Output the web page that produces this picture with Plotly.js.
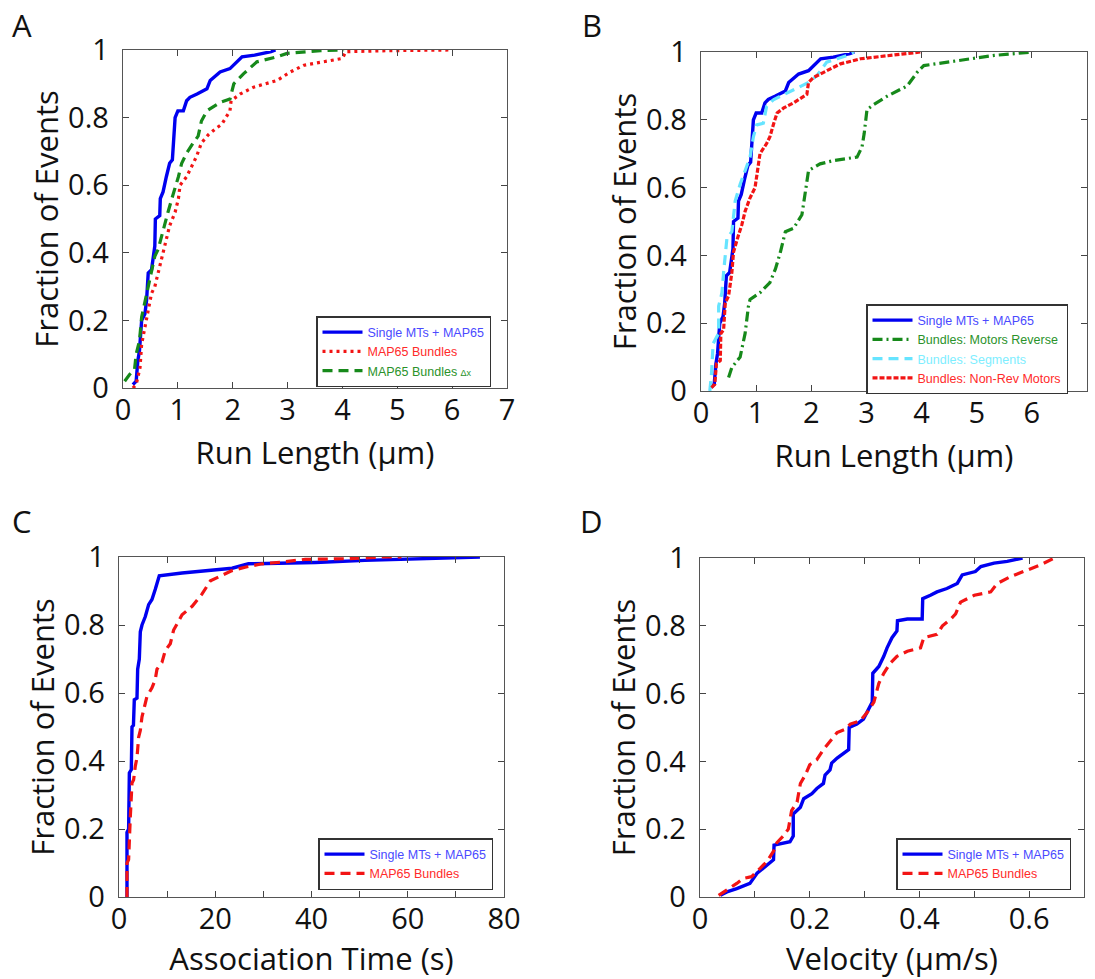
<!DOCTYPE html>
<html><head><meta charset="utf-8">
<script src="https://cdn.plot.ly/plotly-3.0.1.min.js"></script>
<style>body{margin:0;background:#fff}</style>
</head><body><div id="chart" style="width:1095px;height:979px"></div>
<script>
// ---- Panel A / B : run length CDFs (µm) ----
const runSingleX = [0.18,0.24,0.27,0.30,0.34,0.40,0.43,0.46,0.52,0.55,0.58,0.59,0.67,0.68,0.73,0.79,0.85,0.90,0.93,0.95,1.00,1.10,1.16,1.22,1.35,1.53,1.59,1.77,1.95,2.05,2.17,2.40,2.56,2.70,2.78];
const runSingleY = [0.01,0.02,0.08,0.11,0.20,0.22,0.26,0.34,0.35,0.39,0.42,0.50,0.51,0.56,0.58,0.625,0.665,0.675,0.77,0.80,0.82,0.82,0.85,0.86,0.87,0.885,0.91,0.935,0.945,0.96,0.98,0.985,0.99,0.995,1.0];
const runBundlesX = [0.18,0.24,0.31,0.34,0.40,0.46,0.52,0.58,0.64,0.70,0.76,0.85,0.95,1.01,1.04,1.16,1.25,1.34,1.43,1.56,1.71,1.80,1.95,1.97,2.14,2.38,2.81,3.05,3.30,3.66,4.00,4.06,4.82,5.95];
const runBundlesY = [0.0,0.01,0.06,0.13,0.18,0.23,0.28,0.30,0.34,0.39,0.42,0.48,0.52,0.56,0.60,0.625,0.655,0.685,0.725,0.75,0.77,0.78,0.82,0.85,0.87,0.89,0.91,0.935,0.955,0.965,0.975,0.995,0.998,1.0];
const runBundlesDxX = [0.03,0.12,0.21,0.24,0.30,0.34,0.40,0.46,0.52,0.58,0.64,0.70,0.76,0.82,0.89,0.95,1.01,1.07,1.16,1.28,1.37,1.43,1.53,1.77,1.95,2.02,2.20,2.44,2.81,2.99,3.60,4.03];
const runBundlesDxY = [0.02,0.04,0.055,0.10,0.14,0.21,0.255,0.30,0.34,0.39,0.41,0.45,0.48,0.52,0.56,0.59,0.625,0.665,0.695,0.725,0.745,0.79,0.82,0.845,0.855,0.90,0.93,0.965,0.98,0.99,0.998,1.0];
const motorsRevX = [0.50,0.56,0.71,0.80,0.86,0.89,1.07,1.25,1.35,1.44,1.53,1.68,1.83,1.89,1.95,2.16,2.41,2.83,2.92,2.96,3.01,3.13,3.38,3.74,3.92,4.04,4.47,4.95,5.32,5.68,6.01];
const motorsRevY = [0.04,0.07,0.10,0.17,0.25,0.27,0.29,0.32,0.36,0.41,0.47,0.48,0.52,0.58,0.65,0.67,0.68,0.69,0.72,0.76,0.83,0.845,0.87,0.90,0.94,0.96,0.97,0.98,0.99,0.995,1.0];
const segmentsX = [0.16,0.19,0.22,0.32,0.32,0.38,0.41,0.47,0.56,0.59,0.62,0.71,0.80,0.89,0.95,1.01,1.13,1.19,1.32,1.56,1.80,1.95,2.10,2.28,2.47,2.65,2.77];
const segmentsY = [0.0,0.05,0.14,0.17,0.25,0.29,0.35,0.45,0.47,0.52,0.56,0.61,0.65,0.69,0.75,0.785,0.79,0.84,0.86,0.88,0.90,0.91,0.93,0.97,0.98,0.99,1.0];
const nonRevX = [0.19,0.25,0.28,0.35,0.36,0.41,0.44,0.50,0.56,0.59,0.68,0.74,0.80,0.89,0.98,1.04,1.07,1.19,1.25,1.32,1.38,1.50,1.68,1.92,1.95,2.04,2.28,2.53,2.89,3.50,3.98];
const nonRevY = [0.01,0.02,0.08,0.09,0.17,0.18,0.26,0.28,0.35,0.41,0.46,0.49,0.53,0.57,0.60,0.66,0.70,0.73,0.75,0.79,0.82,0.835,0.85,0.875,0.91,0.925,0.945,0.965,0.98,0.99,1.0];
// ---- Panel C : association time (s) ----
const assocSingleX = [1.66,1.66,2.0,2.15,2.56,2.7,3.0,3.18,3.74,3.88,4.22,4.43,4.78,5.47,6.16,6.85,7.54,7.89,8.37,13.1,18.6,23.5,26.9,40.8,51.1,61.5,75.0];
const assocSingleY = [0.0,0.19,0.20,0.365,0.375,0.50,0.505,0.58,0.585,0.67,0.70,0.78,0.80,0.825,0.86,0.875,0.905,0.925,0.945,0.953,0.96,0.967,0.98,0.984,0.99,0.995,1.0];
const assocBundlesX = [1.66,1.66,2.0,2.15,2.35,2.7,3.04,3.39,3.74,4.08,4.43,4.78,5.47,5.81,6.85,7.54,7.89,8.93,9.62,10.66,11.35,12.4,13.1,15.2,17.2,19.0,21.4,23.5,26.2,29.7,33.8,38.7,47.7,54.6,58.7];
const assocBundlesY = [0.0,0.10,0.11,0.205,0.235,0.335,0.345,0.385,0.41,0.47,0.49,0.53,0.57,0.59,0.615,0.64,0.67,0.69,0.725,0.745,0.785,0.81,0.83,0.855,0.89,0.93,0.945,0.96,0.97,0.98,0.985,0.993,0.995,1.0,1.0];
// ---- Panel D : velocity (µm/s) ----
const velSingleX = [0.037,0.049,0.067,0.091,0.104,0.116,0.134,0.135,0.164,0.170,0.170,0.183,0.189,0.204,0.213,0.225,0.228,0.237,0.240,0.250,0.262,0.271,0.272,0.286,0.298,0.307,0.314,0.315,0.326,0.335,0.341,0.350,0.359,0.360,0.378,0.405,0.406,0.420,0.432,0.450,0.469,0.478,0.502,0.512,0.536,0.560,0.588];
const velSingleY = [0.005,0.015,0.025,0.04,0.07,0.085,0.11,0.153,0.163,0.18,0.245,0.265,0.29,0.305,0.32,0.335,0.36,0.375,0.395,0.41,0.425,0.435,0.50,0.51,0.525,0.555,0.575,0.66,0.68,0.71,0.735,0.765,0.785,0.815,0.82,0.82,0.88,0.89,0.90,0.91,0.925,0.95,0.96,0.975,0.985,0.99,1.0];
const velBundlesX = [0.034,0.049,0.067,0.079,0.094,0.110,0.122,0.134,0.140,0.152,0.161,0.167,0.177,0.183,0.192,0.200,0.213,0.225,0.238,0.250,0.265,0.274,0.292,0.305,0.317,0.326,0.335,0.347,0.359,0.378,0.402,0.408,0.432,0.442,0.457,0.466,0.475,0.500,0.530,0.542,0.566,0.597,0.621,0.646];
const velBundlesY = [0.005,0.02,0.04,0.055,0.06,0.085,0.105,0.135,0.16,0.18,0.20,0.255,0.28,0.335,0.36,0.39,0.405,0.435,0.46,0.485,0.495,0.51,0.52,0.545,0.575,0.63,0.66,0.69,0.71,0.725,0.735,0.765,0.775,0.80,0.82,0.835,0.87,0.89,0.90,0.925,0.945,0.965,0.98,1.0];
// ---- tick labels ----
const yTickVals = [0,0.2,0.4,0.6,0.8,1];
const yTickText = ['0','0.2','0.4','0.6','0.8','1'];
const runTickVals = [0,1,2,3,4,5,6,7];
const runTickText = ['0','1','2','3','4','5','6','7'];
const timeTickVals = [0,10,20,30,40,50,60,70,80];
const timeTickText = ['0','','20','','40','','60','','80'];
const velTickVals = [0,0.1,0.2,0.3,0.4,0.5,0.6,0.7];
const velTickText = ['0','','0.2','','0.4','','0.6',''];

const W = 1095, H = 979;
const BLUE = '#0000f0', RED = '#f21414', GREEN = '#16891a', CYAN = '#66e4ff';
const FONT = 'Open Sans, Noto Sans, sans-serif';
const LFONT = 'Liberation Sans, Arial, sans-serif';
function dx(a, b) { return [a / W, b / W]; }
function dy(top, bot) { return [1 - bot / H, 1 - top / H]; }
function span(c, t) { return '<span style="color:' + c + '">' + t + '</span>'; }

function xAx(domain, anchor, range, tv, tt, title) {
  return { domain: domain, anchor: anchor, range: range, tickvals: tv, ticktext: tt,
    ticks: 'inside', ticklen: 6, tickwidth: 1, tickcolor: '#444', showline: true, linecolor: '#555', linewidth: 1.3,
    mirror: 'ticks', showgrid: false, zeroline: false, fixedrange: true,
    tickfont: { family: FONT, size: 29, color: '#111' }, ticklabelstandoff: -4,
    title: { text: title, font: { family: FONT, size: 31, color: '#111' }, standoff: 15 } };
}
function yAx(domain, anchor) {
  return { domain: domain, anchor: anchor, range: [0, 1], tickvals: yTickVals, ticktext: yTickText,
    ticks: 'inside', ticklen: 6, tickwidth: 1, tickcolor: '#444', showline: true, linecolor: '#555', linewidth: 1.3,
    mirror: 'ticks', showgrid: false, zeroline: false, fixedrange: true,
    tickfont: { family: FONT, size: 29, color: '#111' }, ticklabelstandoff: 7,
    title: { text: 'Fraction of Events', font: { family: FONT, size: 31, color: '#111' }, standoff: 0 } };
}
function leg(x, y) {
  return { x: x / W, y: 1 - y / H, xanchor: 'left', yanchor: 'top', bgcolor: '#fff', bordercolor: '#333', borderwidth: 1.5,
    font: { family: LFONT, size: 12.5, color: '#000' }, itemwidth: 40, tracegroupgap: 0, traceorder: 'normal' };
}
function tr(x, y, xa, ya, lg, name, color, dash, w) {
  return { type: 'scatter', mode: 'lines', x: x, y: y, xaxis: xa, yaxis: ya, legend: lg, name: name,
    line: { color: color, width: w || 3, dash: dash || 'solid' }, hoverinfo: 'skip' };
}

const data = [
  tr(runSingleX, runSingleY, 'x', 'y', 'legend', span('#4a4aff', 'Single MTs + MAP65'), BLUE, 'solid', 3.4),
  tr(runBundlesX, runBundlesY, 'x', 'y', 'legend', span('#ff2a2a', 'MAP65 Bundles'), RED, '3px,4px', 3.2),
  tr(runBundlesDxX, runBundlesDxY, 'x', 'y', 'legend', span('#2a922a', 'MAP65 Bundles ') + '<span style="color:#2a922a;font-size:9px">Δx</span>', GREEN, '10px,6px', 3.2),

  tr(runSingleX, runSingleY, 'x2', 'y2', 'legend2', span('#4a4aff', 'Single MTs + MAP65'), BLUE, 'solid', 3.4),
  tr(motorsRevX, motorsRevY, 'x2', 'y2', 'legend2', span('#2a922a', 'Bundles: Motors Reverse'), GREEN, '10px,4px,2px,4px', 3.2),
  tr(segmentsX, segmentsY, 'x2', 'y2', 'legend2', span('#7eeeff', 'Bundles: Segments'), CYAN, '10px,6px', 3.2),
  tr(nonRevX, nonRevY, 'x2', 'y2', 'legend2', span('#ff2a2a', 'Bundles: Non-Rev Motors'), RED, '5px,2px', 3.2),

  tr(assocSingleX, assocSingleY, 'x3', 'y3', 'legend3', span('#4a4aff', 'Single MTs + MAP65'), BLUE, 'solid', 3.4),
  tr(assocBundlesX, assocBundlesY, 'x3', 'y3', 'legend3', span('#ff2a2a', 'MAP65 Bundles'), RED, '10px,6px', 3.2),

  tr(velSingleX, velSingleY, 'x4', 'y4', 'legend4', span('#4a4aff', 'Single MTs + MAP65'), BLUE, 'solid', 3.4),
  tr(velBundlesX, velBundlesY, 'x4', 'y4', 'legend4', span('#ff2a2a', 'MAP65 Bundles'), RED, '10px,6px', 3.2)
];

const layout = {
  width: W, height: H, margin: { l: 0, r: 0, t: 0, b: 0 },
  paper_bgcolor: '#fff', plot_bgcolor: '#fff', showlegend: true,
  xaxis: xAx(dx(123, 507), 'y', [0, 7], runTickVals, runTickText, 'Run Length (μm)'),
  yaxis: yAx(dy(50, 388), 'x'),
  xaxis2: xAx(dx(701, 1087), 'y2', [0, 7], runTickVals, runTickText, 'Run Length (μm)'),
  yaxis2: yAx(dy(52, 391), 'x2'),
  xaxis3: xAx(dx(119, 504), 'y3', [0, 80], timeTickVals, timeTickText, 'Association Time (s)'),
  yaxis3: yAx(dy(557, 897), 'x3'),
  xaxis4: xAx(dx(700, 1084), 'y4', [0, 0.7], velTickVals, velTickText, 'Velocity (μm/s)'),
  yaxis4: yAx(dy(558, 897), 'x4'),
  legend: leg(316, 316),
  legend2: leg(866, 304),
  legend3: leg(318, 838),
  legend4: leg(896, 838),
  annotations: [
    { text: 'A', x: 10 / W, y: 1 - 2 / H },
    { text: 'B', x: 580 / W, y: 1 - 2 / H },
    { text: 'C', x: 10 / W, y: 1 - 498 / H },
    { text: 'D', x: 578 / W, y: 1 - 498 / H }
  ].map(a => Object.assign({ xref: 'paper', yref: 'paper', xanchor: 'left', yanchor: 'top', showarrow: false,
      font: { family: FONT, size: 31, color: '#111' } }, a))
};

Plotly.newPlot('chart', data, layout, { staticPlot: true, displayModeBar: false });
</script>
</body></html>
